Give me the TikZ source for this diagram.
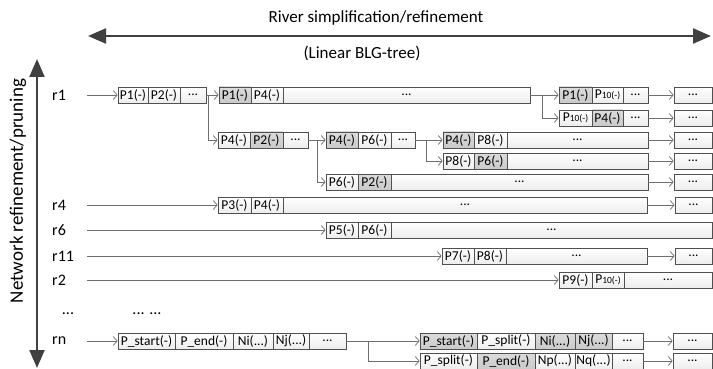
\documentclass[tikz,border=0pt]{standalone}
\usepackage{fontspec}
\setmainfont{Carlito}
\usetikzlibrary{arrows.meta}
\definecolor{bigarrow}{HTML}{404040}
\definecolor{linecol}{HTML}{6E6E6E}
\definecolor{bordercol}{HTML}{505050}
\tikzset{
  wcell/.style={draw=bordercol, line width=0.7pt, top color=white, bottom color=gray!14,
    minimum height=16pt, inner sep=0pt, font=\fontsize{13.5}{15}\selectfont},
  gcell/.style={wcell, top color=gray!28, bottom color=gray!42},
  conn/.style={draw=linecol, line width=0.7pt, -{Straight Barb[length=4pt,width=9pt]}},
  big/.style={draw=bigarrow, line width=2.2pt,
    {Triangle[length=18pt,width=15pt]}-{Triangle[length=18pt,width=15pt]}},
  rowlab/.style={anchor=west, text width=35pt, inner sep=0pt, align=left,
    font=\fontsize{16}{18}\selectfont},
  toplab/.style={inner sep=0pt, font=\fontsize{17}{19}\selectfont},
}
\newcommand\mycell[6]{\node[#5, minimum width={#3pt-#2pt}] (#1) at ({(#2+#3)/2},#4) {#6};}
\newcommand\pten{P{\fontsize{9.5}{11}\selectfont 10(-)}}
\begin{document}
\begin{tikzpicture}[x=1pt,y=-1pt]
\useasboundingbox (0,0) rectangle (713,369);
% axes
\node[toplab] (title) at (376,18) {River simplification/refinement};
\coordinate (hl) at (88,36);
\coordinate (hr) at (711,36);
\draw[big] (hl) -- (hr);
\node[toplab] (blg) at (362,53) {(Linear BLG-tree)};
\coordinate (vt) at (37,59);
\coordinate (vb) at (37,368);
\draw[big] (vt) -- (vb);
\node[toplab, rotate=90, font=\fontsize{19}{21}\selectfont] (net) at (18,191) {Network refinement/pruning};
% row labels
\node[rowlab] (r1) at (52,95) {r1};
\node[rowlab] (r4) at (52,205) {r4};
\node[rowlab] (r6) at (52,230) {r6};
\node[rowlab] (r11) at (52,256) {r11};
\node[rowlab] (r2) at (52,280) {r2};
\node[rowlab] (rn) at (52,341) {rn};
\node[inner sep=0pt, font=\fontsize{16}{18}\selectfont] (dots1) at (68,314) {...};
\node[inner sep=0pt, font=\fontsize{16}{18}\selectfont] (dots2) at (147,314) {... ...};
% row r1
\mycell{a1}{118}{148}{95}{wcell}{P1(-)}
\mycell{a2}{148}{180}{95}{wcell}{P2(-)}
\mycell{a3}{180}{206}{95}{wcell}{...}
\mycell{b1}{219}{251}{95}{gcell}{P1(-)}
\mycell{b2}{251}{283}{95}{wcell}{P4(-)}
\mycell{b3}{283}{530}{95}{wcell}{...}
\mycell{c1}{559}{592}{95}{gcell}{P1(-)}
\mycell{c2}{592}{623}{95}{wcell}{\pten}
\mycell{c3}{623}{648}{95}{wcell}{...}
\mycell{z1}{674}{712}{95}{wcell}{...}
% row 118
\mycell{d1}{559}{592}{118}{wcell}{\pten}
\mycell{d2}{592}{623}{118}{gcell}{P4(-)}
\mycell{d3}{623}{648}{118}{wcell}{...}
\mycell{z2}{674}{712}{118}{wcell}{...}
% row 140
\mycell{e1}{218}{250}{140}{wcell}{P4(-)}
\mycell{e2}{250}{283}{140}{gcell}{P2(-)}
\mycell{e3}{283}{308}{140}{wcell}{...}
\mycell{f1}{326}{358}{140}{gcell}{P4(-)}
\mycell{f2}{358}{391}{140}{wcell}{P6(-)}
\mycell{f3}{391}{415}{140}{wcell}{...}
\mycell{g1}{443}{474}{140}{gcell}{P4(-)}
\mycell{g2}{474}{507}{140}{wcell}{P8(-)}
\mycell{g3}{507}{648}{140}{wcell}{...}
\mycell{z3}{674}{712}{140}{wcell}{...}
% row 161
\mycell{h1}{443}{474}{161}{wcell}{P8(-)}
\mycell{h2}{474}{507}{161}{gcell}{P6(-)}
\mycell{h3}{507}{648}{161}{wcell}{...}
\mycell{z4}{674}{712}{161}{wcell}{...}
% row 182
\mycell{i1}{326}{358}{182}{wcell}{P6(-)}
\mycell{i2}{358}{391}{182}{gcell}{P2(-)}
\mycell{i3}{391}{648}{182}{wcell}{...}
\mycell{z5}{674}{712}{182}{wcell}{...}
% row r4
\mycell{k1}{218}{251}{205}{wcell}{P3(-)}
\mycell{k2}{251}{283}{205}{wcell}{P4(-)}
\mycell{k3}{283}{647}{205}{wcell}{...}
\mycell{z6}{675}{712}{205}{wcell}{...}
% row r6
\mycell{l1}{326}{358}{230}{wcell}{P5(-)}
\mycell{l2}{358}{391}{230}{wcell}{P6(-)}
\mycell{l3}{391}{712}{230}{wcell}{...}
% row r11
\mycell{m1}{442}{474}{256}{wcell}{P7(-)}
\mycell{m2}{474}{506}{256}{wcell}{P8(-)}
\mycell{m3}{506}{647}{256}{wcell}{...}
\mycell{z7}{675}{712}{256}{wcell}{...}
% row r2
\mycell{n1}{559}{592}{280}{wcell}{P9(-)}
\mycell{n2}{592}{624}{280}{wcell}{\pten}
\mycell{n3}{624}{712}{280}{wcell}{...}
% row rn
\mycell{o1}{118}{175}{341}{wcell}{P\_start(-)}
\mycell{o2}{175}{233}{341}{wcell}{P\_end(-)}
\mycell{o3}{233}{273}{341}{wcell}{Ni(...)}
\mycell{o4}{273}{309}{341}{wcell}{Nj(...)}
\mycell{o5}{309}{346}{341}{wcell}{...}
\mycell{p1}{420}{477}{341}{gcell}{P\_start(-)}
\mycell{p2}{477}{535}{341}{wcell}{P\_split(-)}
\mycell{p3}{535}{575}{341}{gcell}{Ni(...)}
\mycell{p4}{575}{612}{341}{gcell}{Nj(...)}
\mycell{p5}{612}{643}{341}{wcell}{...}
\mycell{z8}{673}{712}{341}{wcell}{...}
\mycell{q1}{420}{477}{361}{wcell}{P\_split(-)}
\mycell{q2}{477}{535}{361}{gcell}{P\_end(-)}
\mycell{q3}{535}{575}{361}{wcell}{Np(...)}
\mycell{q4}{575}{612}{361}{wcell}{Nq(...)}
\mycell{q5}{612}{643}{361}{wcell}{...}
\mycell{z9}{673}{712}{361}{wcell}{...}
% connectors
\coordinate (j1) at (208,95);
\coordinate (j2) at (542,95);
\coordinate (j3) at (317,140);
\coordinate (j4) at (426,140);
\coordinate (j5) at (368,341);
\draw[conn] (r1.east) -- (a1.west);
\draw[conn] (a3.east) -- (b1.west);
\draw[conn] (j1) |- (e1.west);
\draw[conn] (b3.east) -- (c1.west);
\draw[conn] (j2) |- (d1.west);
\draw[conn] (c3.east) -- (z1.west);
\draw[conn] (d3.east) -- (z2.west);
\draw[conn] (e3.east) -- (f1.west);
\draw[conn] (j3) |- (i1.west);
\draw[conn] (f3.east) -- (g1.west);
\draw[conn] (j4) |- (h1.west);
\draw[conn] (g3.east) -- (z3.west);
\draw[conn] (h3.east) -- (z4.west);
\draw[conn] (i3.east) -- (z5.west);
\draw[conn] (r4.east) -- (k1.west);
\draw[conn] (k3.east) -- (z6.west);
\draw[conn] (r6.east) -- (l1.west);
\draw[conn] (r11.east) -- (m1.west);
\draw[conn] (m3.east) -- (z7.west);
\draw[conn] (r2.east) -- (n1.west);
\draw[conn] (rn.east) -- (o1.west);
\draw[conn] (o5.east) -- (p1.west);
\draw[conn] (j5) |- (q1.west);
\draw[conn] (p5.east) -- (z8.west);
\draw[conn] (q5.east) -- (z9.west);
\end{tikzpicture}
\end{document}
